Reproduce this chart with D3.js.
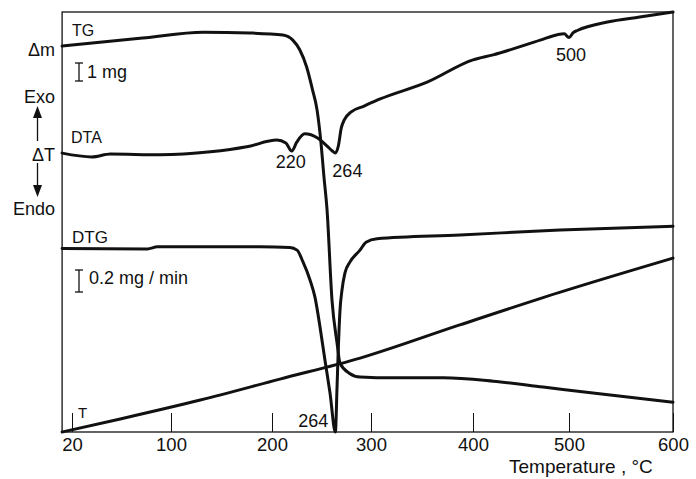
<!DOCTYPE html>
<html>
<head>
<meta charset="utf-8">
<script src="https://cdn.jsdelivr.net/npm/d3@7/dist/d3.min.js"></script>
<style>
  html, body { margin: 0; padding: 0; background: #fff; }
  svg { display: block; }
  text { font-family: "Liberation Sans", Arial, Helvetica, sans-serif; fill: #111; }
</style>
</head>
<body>
<svg id="chart" width="696" height="479"></svg>
<script>
// Temperature axis tick values (°C)
const tempTicks = [20, 100, 200, 300, 400, 500, 600];

// Each curve: [temperature °C, signal in relative chart units 0–100]
const tgCurve = [
  [12, 91.9], [77, 93.8], [132, 95.2], [178, 95.0], [211, 94.5], [221, 93.3],
  [228, 91.0], [235, 86.9], [241, 81.4], [245.5, 76.7], [249.5, 68.8],
  [252.5, 60.7], [255.6, 52.9], [260.6, 31.4], [265.7, 21.2], [268.7, 16.4],
  [278, 14.0], [289, 13.1], [322, 12.9], [371, 12.9], [421, 12.1],
  [473, 10.7], [523, 9.3], [600, 7.1]
];

const dtaCurve = [
  [12, 66.4], [36, 65.5], [51, 66.2], [91, 66.0], [139, 66.7], [175, 67.9],
  [205, 69.5], [214, 68.8], [220, 66.9], [225, 69.0], [233, 71.0], [246, 70.0],
  [256, 68.0], [261, 66.9], [264, 66.4], [267, 68.1], [270, 72.4], [273, 74.3],
  [280, 76.2], [293, 77.6], [309, 79.3], [355, 83.3], [400, 88.6], [421, 89.8],
  [470, 93.3], [488, 94.6], [495, 94.8], [500, 93.9], [504, 95.1], [508, 95.6],
  [537, 97.6], [568, 98.8], [600, 100]
];

const dtgCurve = [
  [12, 43.7], [81, 43.6], [89, 44.1], [188, 44.1], [218, 43.9], [225.3, 43.3],
  [231.3, 40.5], [238.4, 36.2], [243.4, 32.1], [248.5, 25.0], [253.5, 17.1],
  [258.6, 9.3], [264, 0], [265.7, 10.7], [266.7, 17.9], [268.7, 29.0],
  [270.7, 33.8], [273.7, 37.9], [278.8, 40.5], [288.9, 43.3], [295, 45.2],
  [305.9, 46.0], [387.3, 46.9], [490.6, 48.1], [600, 49.0]
];

const tCurve = [
  [12, 0], [59, 3.1], [129, 7.6], [208, 12.6], [289, 17.6],
  [387, 25.5], [491, 33.3], [600, 41.4]
];

// Peak temperatures annotated on the curves
const dtaPeaks = [220, 264, 500];
const dtgPeaks = [264];

const svg = d3.select("#chart");

// Temperature scale (piecewise, following the printed tick spacing)
const x = d3.scaleLinear()
  .domain(tempTicks)
  .range([72, 171, 272, 371, 473, 569, 673]);
const y = d3.scaleLinear().domain([0, 100]).range([432, 12]);

const xLeft = x(12), xRight = x(600), yTop = y(100), yBottom = y(0);
const ink = "#111";

// Plot frame
svg.append("rect")
  .attr("x", xLeft).attr("y", yTop)
  .attr("width", xRight - xLeft).attr("height", yBottom - yTop)
  .attr("fill", "none").attr("stroke", ink).attr("stroke-width", 1.3);

// Bottom axis with inward ticks
const axis = d3.axisBottom(x)
  .tickValues(tempTicks)
  .tickFormat(d3.format("d"))
  .tickSizeInner(-19)
  .tickSizeOuter(0)
  .tickPadding(6);
const gAxis = svg.append("g").attr("transform", `translate(0,${yBottom})`).call(axis);
gAxis.select(".domain").remove();
gAxis.selectAll(".tick line").attr("stroke", ink).attr("stroke-width", 1);
gAxis.selectAll(".tick text")
  .attr("fill", ink)
  .style("font-family", '"Liberation Sans", Arial, sans-serif')
  .style("font-size", "18.5px");

svg.append("text")
  .attr("x", 509).attr("y", 473)
  .style("font-size", "19px")
  .text("Temperature , °C");

// Curves
const line = d3.line()
  .x(d => x(d[0]))
  .y(d => y(d[1]))
  .curve(d3.curveMonotoneX);

[tgCurve, dtaCurve, dtgCurve, tCurve].forEach(c => {
  svg.append("path")
    .datum(c)
    .attr("d", line)
    .attr("fill", "none")
    .attr("stroke", ink)
    .attr("stroke-width", 3)
    .attr("stroke-linejoin", "round")
    .attr("stroke-linecap", "round");
});

// Curve names
const curveLabel = (tx, ty, s, size) =>
  svg.append("text").attr("x", tx).attr("y", ty).style("font-size", size + "px").text(s);
curveLabel(72, 36, "TG", 16);
curveLabel(71, 143, "DTA", 16);
curveLabel(72, 243, "DTG", 17);
curveLabel(78, 418, "T", 15);

// Left-hand quantity labels
const sideLabel = (ty, s) =>
  svg.append("text").attr("x", 55).attr("y", ty).attr("text-anchor", "end")
    .style("font-size", "18px").text(s);
sideLabel(56, "Δm");
sideLabel(103, "Exo");
sideLabel(161, "ΔT");
sideLabel(215, "Endo");

// Exo / Endo arrows
const arrowX = 37.5;
svg.append("line").attr("x1", arrowX).attr("x2", arrowX).attr("y1", 141).attr("y2", 115)
  .attr("stroke", ink).attr("stroke-width", 1.3);
svg.append("path").attr("d", `M${arrowX},106 L${arrowX - 4.5},118 L${arrowX + 4.5},118 Z`).attr("fill", ink);
svg.append("line").attr("x1", arrowX).attr("x2", arrowX).attr("y1", 163).attr("y2", 188)
  .attr("stroke", ink).attr("stroke-width", 1.3);
svg.append("path").attr("d", `M${arrowX},197 L${arrowX - 4.5},185 L${arrowX + 4.5},185 Z`).attr("fill", ink);

// Scale bars
function scaleBar(bx, y1, y2, tx, ty, s) {
  const g = svg.append("g").attr("stroke", ink).attr("stroke-width", 1.3);
  g.append("line").attr("x1", bx).attr("x2", bx).attr("y1", y1).attr("y2", y2);
  g.append("line").attr("x1", bx - 4).attr("x2", bx + 4).attr("y1", y1).attr("y2", y1);
  g.append("line").attr("x1", bx - 4).attr("x2", bx + 4).attr("y1", y2).attr("y2", y2);
  svg.append("text").attr("x", tx).attr("y", ty).style("font-size", "18px").text(s);
}
scaleBar(79, 63, 81, 87, 78, "1 mg");
scaleBar(79, 270, 292, 89, 284, "0.2 mg / min");

// Peak annotations
const valueAt = (curve, t) => curve.find(d => d[0] === t)[1];
const peakOffsets = {
  220: { dx: -1, dy: 17, anchor: "middle" },
  264: { dx: -3, dy: 24, anchor: "start" },
  500: { dx: 2, dy: 23, anchor: "middle" }
};
dtaPeaks.forEach(t => {
  const o = peakOffsets[t];
  svg.append("text")
    .attr("x", x(t) + o.dx).attr("y", y(valueAt(dtaCurve, t)) + o.dy)
    .attr("text-anchor", o.anchor)
    .style("font-size", "18px")
    .text(t);
});
dtgPeaks.forEach(t => {
  svg.append("text")
    .attr("x", x(t) - 7).attr("y", y(valueAt(dtgCurve, t)) - 5)
    .attr("text-anchor", "end")
    .style("font-size", "18px")
    .text(t);
});
</script>
</body>
</html>
